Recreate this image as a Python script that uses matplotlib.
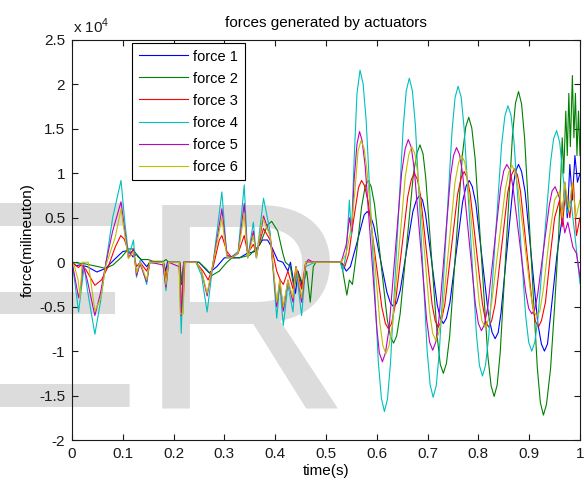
import numpy as np
import matplotlib
matplotlib.use('Agg')
import matplotlib.pyplot as plt
from matplotlib.ticker import FuncFormatter

plt.rcParams['font.family'] = ['Liberation Sans', 'DejaVu Sans']

# ─── data: (time [s], force [x 1e4 milinewton]) ───
SCALE = 1e4

force1 = [(0, 0), (0.008, -0.04), (0.015, -0.03), (0.03, -0.05), (0.049, -0.11),
          (0.066, -0.07), (0.085, 0.04), (0.1, 0.12), (0.108, 0.13), (0.115, 0.1),
          (0.12, 0.06), (0.127, 0.09), (0.137, 0.02), (0.147, -0.05), (0.153, 0),
          (0.18, 0), (0.184, -0.1), (0.188, 0), (0.212, 0), (0.216, -0.25),
          (0.22, 0), (0.25, 0), (0.27, -0.12), (0.285, -0.05), (0.3, 0.05),
          (0.33, 0.05), (0.345, 0.1), (0.36, 0.12), (0.375, 0.25), (0.385, 0.25),
          (0.395, 0.15), (0.405, 0.02), (0.415, 0), (0.425, -0.1), (0.43, 0),
          (0.44, -0.35), (0.445, -0.1), (0.455, -0.3), (0.46, 0), (0.48, 0),
          (0.53, 0), (0.54, -0.1), (0.548, -0.05), (0.56, 0.2), (0.57, 0.42),
          (0.575, 0.53), (0.581, 0.57), (0.587, 0.53), (0.594, 0.41), (0.607, 0.035),
          (0.62, -0.34), (0.627, -0.46), (0.633, -0.5), (0.639, -0.46), (0.646, -0.32),
          (0.6585, 0.125), (0.671, 0.57), (0.678, 0.7), (0.684, 0.75), (0.69, 0.7),
          (0.696, 0.54), (0.7075, 0.03), (0.719, -0.48), (0.725, -0.63), (0.731, -0.69),
          (0.737, -0.63), (0.744, -0.45), (0.7565, 0.115), (0.769, 0.68), (0.776, 0.86),
          (0.782, 0.92), (0.788, 0.85), (0.795, 0.66), (0.8075, 0.03), (0.82, -0.6),
          (0.827, -0.79), (0.833, -0.86), (0.839, -0.79), (0.8445, -0.57), (0.856, 0.12),
          (0.8675, 0.81), (0.873, 1.02), (0.879, 1.1), (0.885, 1.02), (0.892, 0.79),
          (0.9045, 0.05), (0.917, -0.69), (0.924, -0.92), (0.93, -1.0), (0.936, -0.92),
          (0.942, -0.6), (0.955, 0.1), (0.965, 0.5), (0.97, 0.9), (0.975, 0.5),
          (0.98, 1.1), (0.985, 0.7), (0.99, 1.2), (0.995, 0.9), (1.0, 1.0)]

force2 = [(0, 0), (0.027, -0.02), (0.052, -0.05), (0.066, -0.07), (0.081, -0.03),
          (0.098, 0.06), (0.111, 0.15), (0.12, 0.15), (0.13, 0.06), (0.137, 0.03),
          (0.15, 0.03), (0.16, 0.01), (0.18, 0.01), (0.185, 0.03), (0.19, 0),
          (0.212, 0), (0.216, -0.25), (0.22, 0), (0.25, 0), (0.265, -0.08),
          (0.275, -0.15), (0.29, -0.1), (0.305, 0), (0.315, 0.05), (0.33, 0.05),
          (0.35, 0.08), (0.37, 0.2), (0.385, 0.42), (0.393, 0.46), (0.405, 0.35),
          (0.415, 0.1), (0.42, 0), (0.43, -0.05), (0.437, -0.3), (0.443, -0.1),
          (0.455, -0.25), (0.462, -0.1), (0.469, -0.45), (0.475, -0.05), (0.48, 0),
          (0.53, 0), (0.536, -0.2), (0.541, -0.37), (0.546, -0.2), (0.552, -0.25),
          (0.56, 0.1), (0.57, 0.62), (0.577, 0.85), (0.583, 0.92), (0.589, 0.85),
          (0.5955, 0.65), (0.608, 0), (0.6205, -0.64), (0.627, -0.84), (0.633, -0.91),
          (0.639, -0.83), (0.646, -0.58), (0.659, 0.2), (0.672, 0.99), (0.679, 1.23),
          (0.685, 1.32), (0.691, 1.22), (0.6965, 0.94), (0.708, 0.035), (0.7195, -0.87),
          (0.725, -1.15), (0.731, -1.25), (0.737, -1.14), (0.7435, -0.83), (0.756, 0.19),
          (0.7685, 1.21), (0.775, 1.52), (0.781, 1.63), (0.787, 1.51), (0.7935, 1.17),
          (0.806, 0.06), (0.8185, -1.05), (0.825, -1.39), (0.831, -1.51), (0.837, -1.38),
          (0.843, -1.01), (0.855, 0.2), (0.867, 1.42), (0.873, 1.79), (0.879, 1.92),
          (0.885, 1.78), (0.891, 1.39), (0.9035, 0.1), (0.916, -1.19), (0.922, -1.58),
          (0.928, -1.72), (0.934, -1.6), (0.942, -1.2), (0.95, -0.5), (0.958, 0.3),
          (0.965, 1.4), (0.968, 1.0), (0.972, 1.7), (0.975, 1.2), (0.978, 1.9),
          (0.981, 1.3), (0.985, 2.1), (0.988, 1.4), (0.991, 1.9), (0.994, 1.2),
          (0.997, 1.7), (1.0, 1.2)]

force3 = [(0, 0), (0.0125, -0.06), (0.018, -0.03), (0.027, -0.08), (0.045, -0.26),
          (0.058, -0.2), (0.072, -0.04), (0.085, 0.17), (0.096, 0.3), (0.103, 0.26),
          (0.112, 0.1), (0.12, 0.13), (0.127, -0.05), (0.134, 0), (0.147, -0.1),
          (0.153, 0), (0.18, 0), (0.185, -0.18), (0.19, 0), (0.212, 0),
          (0.215, -0.45), (0.219, -0.45), (0.222, 0), (0.244, 0), (0.258, -0.1),
          (0.268, -0.2), (0.278, -0.05), (0.29, 0.25), (0.295, 0.3), (0.305, 0.12),
          (0.315, 0.05), (0.327, 0.1), (0.339, 0.3), (0.346, 0.1), (0.357, 0.2),
          (0.363, 0.1), (0.377, 0.38), (0.39, 0.25), (0.403, -0.1), (0.41, -0.2),
          (0.416, -0.25), (0.425, -0.1), (0.435, -0.3), (0.441, -0.05), (0.452, -0.3),
          (0.46, 0), (0.53, 0), (0.537, -0.05), (0.545, 0.1), (0.555, 0.5),
          (0.564, 0.84), (0.57, 0.92), (0.576, 0.86), (0.583, 0.68), (0.5965, 0.085),
          (0.61, -0.51), (0.617, -0.69), (0.623, -0.75), (0.629, -0.69), (0.636, -0.49),
          (0.6485, 0.125), (0.661, 0.74), (0.668, 0.93), (0.674, 1.0), (0.68, 0.93),
          (0.686, 0.75), (0.6975, 0.135), (0.709, -0.48), (0.715, -0.66), (0.721, -0.73),
          (0.727, -0.66), (0.734, -0.47), (0.7465, 0.145), (0.759, 0.76), (0.766, 0.95),
          (0.772, 1.02), (0.778, 0.95), (0.784, 0.76), (0.796, 0.145), (0.808, -0.47),
          (0.814, -0.66), (0.82, -0.73), (0.826, -0.66), (0.833, -0.47), (0.8455, 0.16),
          (0.858, 0.79), (0.865, 0.98), (0.871, 1.05), (0.877, 0.98), (0.883, 0.79),
          (0.8945, 0.16), (0.906, -0.47), (0.912, -0.66), (0.918, -0.73), (0.924, -0.66),
          (0.932, -0.45), (0.942, 0.1), (0.95, 0.5), (0.96, 0.7), (0.965, 0.4),
          (0.972, 0.8), (0.98, 0.5), (0.987, 0.9), (0.993, 0.3), (1.0, 0.5)]

force4 = [(0, 0), (0.005, -0.2), (0.013, -0.56), (0.018, -0.32), (0.024, -0.05),
          (0.03, -0.3), (0.045, -0.81), (0.056, -0.45), (0.067, 0), (0.08, 0.5),
          (0.0965, 0.92), (0.104, 0.45), (0.111, 0.1), (0.116, 0.15), (0.121, 0.25),
          (0.127, -0.17), (0.134, 0.02), (0.147, -0.25), (0.153, -0.01), (0.179, 0),
          (0.185, -0.32), (0.19, 0), (0.211, 0), (0.215, -0.8), (0.219, -0.1),
          (0.222, 0), (0.244, 0), (0.255, -0.15), (0.266, -0.56), (0.278, 0),
          (0.295, 0.79), (0.305, 0.06), (0.314, 0.06), (0.327, 0.12), (0.339, 0.87),
          (0.346, 0.05), (0.357, 0.45), (0.363, 0.05), (0.377, 0.72), (0.39, 0.34),
          (0.403, -0.63), (0.409, -0.26), (0.416, -0.71), (0.425, -0.26), (0.435, -0.56),
          (0.441, -0.07), (0.452, -0.6), (0.46, -0.05), (0.478, 0), (0.528, 0),
          (0.533, -0.1), (0.54, 0.1), (0.546, 0.7), (0.55, 0.3), (0.555, 1.1),
          (0.561, 1.9), (0.567, 2.16), (0.573, 2.01), (0.579, 1.6), (0.591, 0.24),
          (0.603, -1.12), (0.609, -1.53), (0.615, -1.68), (0.621, -1.54), (0.627, -1.13),
          (0.6395, 0.2), (0.652, 1.52), (0.658, 1.93), (0.664, 2.07), (0.67, 1.93),
          (0.676, 1.54), (0.6875, 0.28), (0.699, -0.99), (0.705, -1.38), (0.711, -1.52),
          (0.717, -1.39), (0.723, -1.01), (0.7355, 0.23), (0.748, 1.47), (0.754, 1.85),
          (0.76, 1.98), (0.766, 1.86), (0.772, 1.5), (0.784, 0.35), (0.796, -0.8),
          (0.802, -1.16), (0.808, -1.28), (0.814, -1.16), (0.8205, -0.83), (0.833, 0.24),
          (0.8455, 1.31), (0.852, 1.64), (0.858, 1.76), (0.864, 1.66), (0.87, 1.36),
          (0.8815, 0.38), (0.893, -0.6), (0.899, -0.9), (0.905, -1.0), (0.911, -0.9),
          (0.917, -0.64), (0.9295, 0.24), (0.942, 1.12), (0.948, 1.39), (0.954, 1.48),
          (0.96, 1.35), (0.966, 1.0), (0.975, 0.55), (0.982, 0.7), (0.99, 0.3),
          (1.0, -0.24)]

force5 = [(0, 0), (0.005, -0.15), (0.013, -0.4), (0.018, -0.25), (0.022, -0.03),
          (0.03, -0.2), (0.045, -0.6), (0.056, -0.35), (0.067, 0), (0.08, 0.35),
          (0.0965, 0.68), (0.104, 0.35), (0.111, 0.05), (0.116, 0.1), (0.121, 0.15),
          (0.127, -0.15), (0.134, -0.02), (0.147, -0.22), (0.153, 0), (0.179, -0.03),
          (0.185, -0.28), (0.19, 0), (0.211, -0.05), (0.215, -0.6), (0.22, 0),
          (0.244, 0), (0.255, -0.1), (0.266, -0.38), (0.278, 0), (0.295, 0.6),
          (0.305, 0.08), (0.314, 0.06), (0.327, 0.1), (0.339, 0.66), (0.346, 0.05),
          (0.357, 0.35), (0.363, 0.05), (0.377, 0.52), (0.39, 0.3), (0.403, -0.5),
          (0.409, -0.2), (0.416, -0.55), (0.425, -0.2), (0.435, -0.45), (0.441, -0.05),
          (0.452, -0.45), (0.46, -0.03), (0.465, 0.03), (0.475, 0), (0.53, 0),
          (0.54, 0.2), (0.546, 0.5), (0.551, 0.35), (0.555, 0.9), (0.561, 1.33),
          (0.566, 1.47), (0.571, 1.37), (0.577, 1.09), (0.5885, 0.175), (0.6, -0.74),
          (0.605, -1.02), (0.611, -1.12), (0.617, -1.02), (0.624, -0.75), (0.6365, 0.13),
          (0.649, 1.01), (0.656, 1.28), (0.662, 1.38), (0.668, 1.29), (0.674, 1.03),
          (0.686, 0.195), (0.698, -0.64), (0.704, -0.9), (0.71, -0.99), (0.716, -0.9),
          (0.722, -0.66), (0.7335, 0.15), (0.745, 0.96), (0.751, 1.2), (0.757, 1.29),
          (0.763, 1.21), (0.769, 0.99), (0.7815, 0.26), (0.794, -0.47), (0.8, -0.69),
          (0.806, -0.77), (0.812, -0.7), (0.8185, -0.5), (0.831, 0.165), (0.8435, 0.83),
          (0.85, 1.03), (0.856, 1.1), (0.862, 1.04), (0.868, 0.85), (0.8805, 0.26),
          (0.893, -0.33), (0.899, -0.52), (0.905, -0.58), (0.911, -0.53), (0.9165, -0.37),
          (0.928, 0.135), (0.9395, 0.64), (0.945, 0.8), (0.951, 0.85), (0.961, 0.7),
          (0.97, 0.33), (0.976, 0.45), (0.986, 0.17), (0.993, 0.1), (1.0, -0.17)]

force6 = [(0, 0), (0.005, -0.05), (0.012, -0.2), (0.016, -0.39), (0.02, 0),
          (0.032, 0), (0.045, -0.55), (0.057, -0.4), (0.066, -0.05), (0.085, 0.28),
          (0.0965, 0.6), (0.104, 0.3), (0.111, 0.04), (0.116, 0.08), (0.121, 0.12),
          (0.127, -0.12), (0.134, 0), (0.147, -0.2), (0.153, 0), (0.18, 0),
          (0.185, -0.25), (0.19, 0), (0.211, 0), (0.213, -0.58), (0.219, -0.58),
          (0.221, 0), (0.244, 0), (0.255, -0.1), (0.266, -0.35), (0.278, 0),
          (0.295, 0.5), (0.305, 0.05), (0.314, 0.05), (0.327, 0.1), (0.339, 0.55),
          (0.346, 0.05), (0.357, 0.3), (0.363, 0.05), (0.375, 0.5), (0.39, 0.3),
          (0.403, -0.45), (0.409, -0.2), (0.416, -0.5), (0.425, -0.2), (0.435, -0.4),
          (0.441, -0.05), (0.452, -0.4), (0.46, 0), (0.53, 0), (0.54, 0.1),
          (0.55, 0.4), (0.557, 0.8), (0.563, 1.25), (0.569, 1.37), (0.575, 1.28),
          (0.581, 1.02), (0.5935, 0.17), (0.606, -0.68), (0.612, -0.94), (0.618, -1.03),
          (0.624, -0.94), (0.631, -0.69), (0.6435, 0.135), (0.656, 0.96), (0.663, 1.21),
          (0.669, 1.3), (0.675, 1.22), (0.681, 0.98), (0.6925, 0.21), (0.704, -0.56),
          (0.71, -0.8), (0.716, -0.88), (0.722, -0.8), (0.729, -0.57), (0.7415, 0.16),
          (0.754, 0.9), (0.761, 1.12), (0.767, 1.2), (0.773, 1.13), (0.7785, 0.92),
          (0.79, 0.235), (0.8015, -0.45), (0.807, -0.66), (0.813, -0.73), (0.819, -0.66),
          (0.826, -0.46), (0.8395, 0.18), (0.853, 0.82), (0.86, 1.02), (0.866, 1.09),
          (0.872, 1.02), (0.878, 0.84), (0.8905, 0.24), (0.903, -0.36), (0.909, -0.55),
          (0.915, -0.61), (0.921, -0.55), (0.928, -0.3), (0.94, 0.3), (0.95, 0.7),
          (0.96, 0.8), (0.965, 0.5), (0.97, 0.9), (0.978, 0.6), (0.985, 0.9),
          (0.992, 0.5), (1.0, 0.7)]

series = [force1, force2, force3, force4, force5, force6]
labels = ['force 1', 'force 2', 'force 3', 'force 4', 'force 5', 'force 6']
# old MATLAB 'b', 'g', 'r', 'c', 'm', 'y'
colors = ['#0000ff', '#008000', '#ff0000', '#00bfbf', '#bf00bf', '#bfbf00']

xticks = [0, 0.1, 0.2, 0.3, 0.4, 0.5, 0.6, 0.7, 0.8, 0.9, 1]
yticks = [-2, -1.5, -1, -0.5, 0, 0.5, 1, 1.5, 2, 2.5]

# ─── figure ───
fig = plt.figure(figsize=(5.84, 4.82), dpi=100, facecolor='white')
ax = fig.add_axes([72/584, 1 - 440/482, 508/584, 400/482])
ax.set_facecolor('none')

# grey "ER" watermark behind the curves
wm = dict(fontsize=213, color='#dcdcdc', va='baseline', ha='left',
          family='Liberation Sans', zorder=-1)
fig.text(-55/584, 1 - 407/482, 'E', **wm)
fig.text(138/584, 1 - 407/482, 'R', **wm)

for data, lab, col in zip(series, labels, colors):
    t, v = np.array(data).T
    ax.plot(t, v * SCALE, color=col, linewidth=0.8, label=lab)

ax.set_xlim(0, 1)
ax.set_ylim(-2 * SCALE, 2.5 * SCALE)
ax.set_xticks(xticks)
ax.set_yticks([y * SCALE for y in yticks])
ax.xaxis.set_major_formatter(FuncFormatter(lambda x, p: '%g' % x))
ax.yaxis.set_major_formatter(FuncFormatter(lambda y, p: '%g' % (y / SCALE)))
ax.tick_params(direction='in', top=True, right=True, length=4, width=0.8,
               labelsize=11, colors='#1a1a1a', pad=5)
for sp in ax.spines.values():
    sp.set_color('#1a1a1a')
    sp.set_linewidth(0.8)

ax.set_title('forces generated by actuators', fontsize=11, pad=9)
ax.set_xlabel('time(s)', fontsize=11, labelpad=2)
ax.set_ylabel('force(milineuton)', fontsize=11, labelpad=3)
fig.text(73/584, 1 - 33/482, r'x 10$^{\mathregular{4}}$', fontsize=11,
         color='#1a1a1a')

leg = ax.legend(loc='upper left', bbox_to_anchor=(60/508, 1 - 3/400),
                borderaxespad=0, fontsize=10.5, fancybox=False, framealpha=1,
                edgecolor='black', handlelength=3.4, handletextpad=0.35,
                labelspacing=0.55, borderpad=0.45)
leg.get_frame().set_linewidth(0.8)

fig.savefig('out.png', dpi=100)
